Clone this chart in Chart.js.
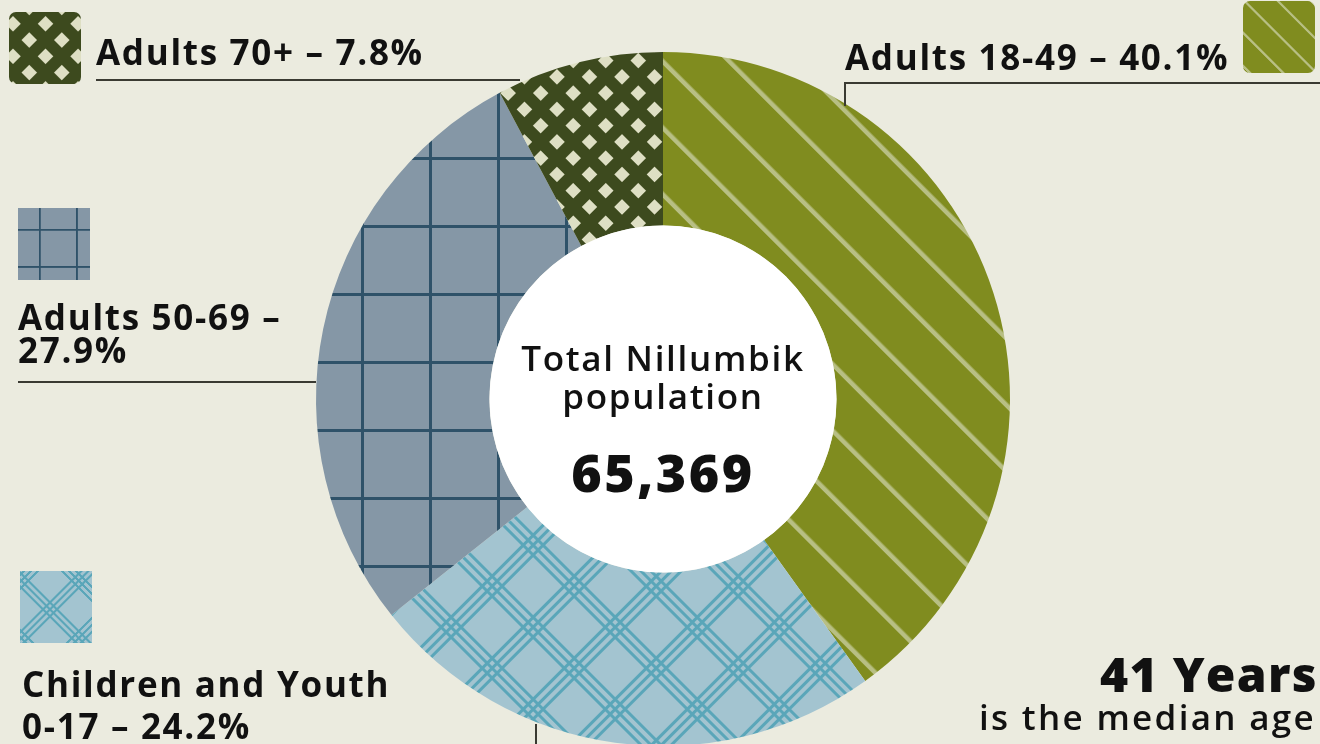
<!DOCTYPE html>
<html>
<head>
<meta charset="utf-8">
<script src="https://cdn.jsdelivr.net/npm/chart.js@4.4.1/dist/chart.umd.min.js"></script>
<style>
  html, body { margin: 0; padding: 0; background: #ebebdf; overflow: hidden; }
  #wrap { position: relative; width: 1320px; height: 744px; overflow: hidden; }
  #chartBox { position: absolute; left: 0; top: 0; width: 1320px; height: 746px; }
  .txt { position: absolute; font-family: "Open Sans", sans-serif; font-weight: 700; color: #111; white-space: nowrap; line-height: 1; }
  .lbl { font-size: 35px; letter-spacing: 1.7px; }
  .swatch { position: absolute; width: 72px; height: 72px; }
  .rule { position: absolute; background: #3a3a32; }
</style>
</head>
<body>
<div id="wrap">
  <div id="chartBox"><canvas id="pie"></canvas></div>
</div>
<script>
// Data
const groups = ['Adults 18-49', 'Children and Youth 0-17', 'Adults 50-69', 'Adults 70+'];
const shares = [40.1, 24.2, 27.9, 7.8];
const totalPopulation = 65369;
const medianAge = 41;

// Pattern builders: each returns a CanvasPattern, scaled for pie or swatch
function makePattern(kind, scale, offset) {
    const tile = document.createElement('canvas');
    let angle = 0, tx = 0, ty = 0;
    let c;
    if (kind === 'stripes') {
        tile.width = 47; tile.height = 47;
        c = tile.getContext('2d');
        c.fillStyle = '#808c1f';
        c.fillRect(0, 0, 47, 47);
        c.fillStyle = '#b8bf84';
        c.fillRect(0, 0, 4.5, 47);
        angle = -45;
    } else if (kind === 'plaid') {
        tile.width = 58; tile.height = 58;
        c = tile.getContext('2d');
        c.fillStyle = '#a3c4d0';
        c.fillRect(0, 0, 58, 58);
        c.fillStyle = '#5aa6b9';
        [0, 7, 14].forEach(o => {
            c.fillRect(o, 0, 3, 58);
            c.fillRect(0, o, 58, 3);
        });
        angle = 45;
    } else if (kind === 'grid') {
        tile.width = 68; tile.height = 68;
        c = tile.getContext('2d');
        c.fillStyle = '#8597a6';
        c.fillRect(0, 0, 68, 68);
        c.fillStyle = '#2f5269';
        c.fillRect(0, 0, 3, 68);
        c.fillRect(0, 0, 68, 3);
        tx = 21; ty = 21;
    } else if (kind === 'diamonds') {
        tile.width = 23; tile.height = 23;
        c = tile.getContext('2d');
        c.fillStyle = '#3d4a1e';
        c.fillRect(0, 0, 23, 23);
        c.fillStyle = '#dedfc4';
        c.fillRect(0, 0, 11, 11);
        angle = 45;
        tx = 4; ty = 4;
    }
    if (offset) { tx = offset; ty = offset; }
    const p = c.createPattern(tile, 'repeat');
    p.setTransform(new DOMMatrix().translateSelf(tx, ty).rotateSelf(angle).scaleSelf(scale));
    return p;
}

const pieCanvas = document.getElementById('pie');
const kinds = ['stripes', 'plaid', 'grid', 'diamonds'];
const fills = kinds.map(k => makePattern(k, 1));

// White disc inside the ring
const innerDisc = {
    id: 'innerDisc',
    afterDatasetsDraw(chart) {
        const arc = chart.getDatasetMeta(0).data[0];
        if (!arc) return;
        const ctx = chart.ctx;
        ctx.save();
        ctx.beginPath();
        ctx.arc(arc.x, arc.y, arc.innerRadius, 0, Math.PI * 2);
        ctx.fillStyle = '#ffffff';
        ctx.fill();
        ctx.restore();
    }
};

new Chart(pieCanvas, {
    type: 'doughnut',
    data: {
        labels: groups,
        datasets: [{
            data: shares,
            backgroundColor: fills,
            borderWidth: 0
        }]
    },
    options: {
        responsive: true,
        maintainAspectRatio: false,
        animation: false,
        cutout: '50%',
        layout: { padding: { top: 52, left: 6, right: 0, bottom: 0 } },
        plugins: {
            legend: { display: false },
            tooltip: { enabled: false }
        }
    },
    plugins: [innerDisc]
});

// Annotation layer: swatches, labels, leader lines, centre text
const wrap = document.getElementById('wrap');

function addText(html, css, cls) {
    const d = document.createElement('div');
    d.className = 'txt ' + (cls || '');
    d.innerHTML = html;
    Object.assign(d.style, css);
    wrap.appendChild(d);
    return d;
}
function addRule(x, y, w, h) {
    const d = document.createElement('div');
    d.className = 'rule';
    Object.assign(d.style, { left: x + 'px', top: y + 'px', width: w + 'px', height: h + 'px' });
    wrap.appendChild(d);
}
function addSwatch(i, x, y, scale, radius, offset) {
    const cv = document.createElement('canvas');
    cv.width = 72; cv.height = 72;
    cv.className = 'swatch';
    cv.style.left = x + 'px';
    cv.style.top = y + 'px';
    cv.style.borderRadius = radius + 'px';
    const c = cv.getContext('2d');
    c.fillStyle = makePattern(kinds[i], scale, offset);
    c.fillRect(0, 0, 72, 72);
    wrap.appendChild(cv);
}

const pct = i => shares[i].toFixed(1) + '%';

// Adults 18-49 (top right)
addSwatch(0, 1243, 1, 0.5, 7);
addText(groups[0] + ' – ' + pct(0), { left: '845px', top: '39px' }, 'lbl');
addRule(844, 82, 476, 2);
addRule(844, 82, 2, 24);

// Adults 70+ (top left)
addSwatch(3, 9, 12, 1, 7);
addText(groups[3] + ' – ' + pct(3), { left: '96px', top: '34px' }, 'lbl');
addRule(96, 79, 424, 2);

// Adults 50-69 (left)
addSwatch(2, 18, 208, 0.545, 0);
addText(groups[2] + ' –<br>' + pct(2), { left: '18px', top: '300px', lineHeight: '33px' }, 'lbl');
addRule(18, 381, 298, 2);

// Children and Youth (bottom left)
addSwatch(1, 20, 571, 0.7, 0, 30);
addText('Children and Youth<br>0-17 – ' + pct(1), { left: '22px', top: '663px', lineHeight: '42px' }, 'lbl');
addRule(535, 724, 2, 20);

// Centre
addText('Total Nillumbik<br>population', { left: '413px', width: '500px', top: '339px', textAlign: 'center', fontSize: '35px', fontWeight: '600', lineHeight: '38px', letterSpacing: '1.7px' });
addText(totalPopulation.toLocaleString('en-US'), { left: '413px', width: '500px', top: '446px', textAlign: 'center', fontSize: '52px', fontWeight: '800', letterSpacing: '2.5px' });

// Median age
addText(medianAge + ' Years', { right: '2px', top: '650px', fontSize: '48px', fontWeight: '800', letterSpacing: '1.3px' });
addText('is the median age', { right: '4px', top: '699px', fontSize: '35px', fontWeight: '600', letterSpacing: '2.3px' });
</script>
</body>
</html>
